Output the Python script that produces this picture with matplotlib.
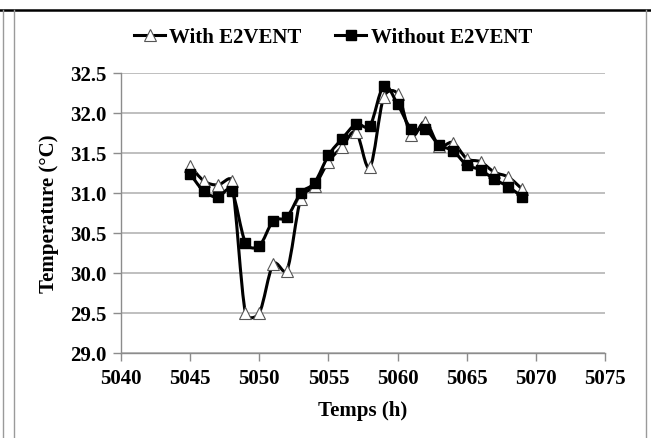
import numpy as np
import matplotlib
matplotlib.use("Agg")
import matplotlib.pyplot as plt
from matplotlib.path import Path
from matplotlib.patches import PathPatch
from matplotlib.lines import Line2D

# Temperatur-Verlauf, stuendlich
temps_h = [5045, 5046, 5047, 5048, 5049, 5050, 5051, 5052, 5053, 5054, 5055, 5056,
           5057, 5058, 5059, 5060, 5061, 5062, 5063, 5064, 5065, 5066, 5067, 5068, 5069]
with_e2vent = [31.34, 31.15, 31.10, 31.15, 29.50, 29.50, 30.11, 30.03, 30.93, 31.09, 31.39, 31.58,
               31.76, 31.32, 32.20, 32.24, 31.72, 31.89, 31.59, 31.63, 31.43, 31.39, 31.26, 31.20, 31.05]
without_e2vent = [31.24, 31.02, 30.95, 31.03, 30.38, 30.34, 30.65, 30.70, 31.00, 31.13, 31.47, 31.68,
                  31.86, 31.84, 32.34, 32.11, 31.80, 31.80, 31.60, 31.53, 31.35, 31.29, 31.17, 31.08, 30.95]
labels = ['With E2VENT', 'Without E2VENT']

plt.rcParams['font.family'] = ['Liberation Serif', 'DejaVu Serif']
plt.rcParams['font.weight'] = 'bold'

fig = plt.figure(figsize=(6.51, 4.39), dpi=100)
ax = fig.add_axes([121 / 651, 1 - 354 / 439, (605 - 121) / 651, (354 - 74) / 439])
ax.set_xlim(5040, 5075)
ax.set_ylim(29.0, 32.5)


# geglaettete Linie: Catmull-Rom-Bezier durch die Messpunkte,
# Tangente auf das halbe Segment begrenzt (in Pixeln gerechnet)
def smooth_path(x, y):
    sx = 484 / 35.0
    sy = 280 / 3.5
    p = np.column_stack([np.asarray(x, float) * sx, np.asarray(y, float) * sy])
    n = len(p)
    verts = [p[0]]
    codes = [Path.MOVETO]
    for i in range(n - 1):
        p0 = p[max(i - 1, 0)]
        p1 = p[i]
        p2 = p[i + 1]
        p3 = p[min(i + 2, n - 1)]
        seg = np.hypot(*(p2 - p1))
        t1 = (p2 - p0) / 6
        t2 = (p3 - p1) / 6
        for t in (t1, t2):
            L = np.hypot(*t)
            if L > seg / 2:
                t *= (seg / 2) / L
        verts += [p1 + t1, p2 - t2, p2]
        codes += [Path.CURVE4] * 3
    v = np.array(verts)
    v[:, 0] /= sx
    v[:, 1] /= sy
    return Path(v, codes)


grey = '#8C8C8C'
ax.add_patch(PathPatch(smooth_path(temps_h, with_e2vent), fill=False, color='black', lw=2.2, zorder=3))
ax.plot(temps_h, with_e2vent, ls='none', marker='^', ms=8, mfc='white', mec='#555555', mew=0.8, zorder=4)
ax.add_patch(PathPatch(smooth_path(temps_h, without_e2vent), fill=False, color='black', lw=2.2, zorder=5))
ax.plot(temps_h, without_e2vent, ls='none', marker='s', ms=6.5, mfc='black', mec='black', zorder=6)

ax.set_xticks(np.arange(5040, 5076, 5))
ax.set_yticks(np.arange(29.0, 32.51, 0.5))
ax.yaxis.set_major_formatter(matplotlib.ticker.FormatStrFormatter('%.1f'))
ax.grid(axis='y', color='#ADADAD', lw=1.1)
ax.set_axisbelow(True)
for s in ['top', 'right']:
    ax.spines[s].set_visible(False)
for s in ['left', 'bottom']:
    ax.spines[s].set_color(grey)
    ax.spines[s].set_linewidth(1.0)
ax.tick_params(axis='both', colors=grey, labelcolor='black', length=5.5, width=1.0, labelsize=15)
ax.tick_params(axis='x', pad=5)
ax.tick_params(axis='y', pad=5)
for t in ax.get_xticklabels() + ax.get_yticklabels():
    t.set_fontweight('bold')

ax.set_xlabel('Temps (h)', fontsize=15, fontweight='bold', labelpad=9)
ax.set_ylabel('Temperature (°C)', fontsize=15, fontweight='bold', labelpad=8)

handles = [Line2D([], [], color='black', lw=2.2, marker='^', ms=8, mfc='white', mec='#555555', mew=0.8),
           Line2D([], [], color='black', lw=2.2, marker='s', ms=6.5, mfc='black', mec='black')]
fig.legend(handles, labels, loc='center', bbox_to_anchor=(333 / 651, 1 - 38 / 439), ncol=2,
           frameon=False, handlelength=1.5, handletextpad=0.2, columnspacing=1.6,
           prop={'weight': 'bold', 'size': 15})

# Tabellenrahmen um das Diagramm
fig.add_artist(Line2D([0, 1], [1 - 11 / 439] * 2, color='black', lw=1.8, transform=fig.transFigure))
for xp in [2.5, 14, 645.5]:
    fig.add_artist(Line2D([xp / 651] * 2, [0, 1 - 11 / 439], color='#9A9A9A', lw=1.0, transform=fig.transFigure))

fig.savefig('out.png', dpi=100)
